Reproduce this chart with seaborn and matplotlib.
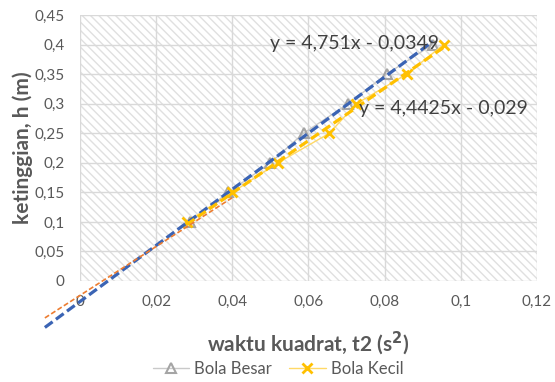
import numpy as np
import pandas as pd
import matplotlib
matplotlib.use("Agg")
import matplotlib.pyplot as plt
import seaborn as sns
from matplotlib.ticker import FuncFormatter, MultipleLocator
from matplotlib.lines import Line2D
from matplotlib.patches import Rectangle

# data
h = [0.10, 0.15, 0.20, 0.25, 0.30, 0.35, 0.40]
t2_besar = [0.0290, 0.0390, 0.0500, 0.0587, 0.0705, 0.0805, 0.0926]
t2_kecil = [0.0280, 0.0400, 0.0520, 0.0655, 0.0726, 0.0858, 0.0955]

# trendline coefficients shown on the chart
besar_slope, besar_icpt = 4.751, -0.0349
kecil_slope, kecil_icpt = 4.4425, -0.029
besar_trend_x = [-0.0092, 0.0926]
kecil_trend_x = [0.0280, 0.0955]
# thin orange dashed line (extra trendline in the original)
orange_x = [-0.0092, 0.0400]
orange_y = [-0.0625, 0.1410]

sns.set_style("white")
plt.rcParams["font.family"] = ["Lato", "DejaVu Sans"]

fig = plt.figure(figsize=(5.55, 3.82), dpi=100)
ax = fig.add_axes([0.144, 0.2644, 0.8236, 0.6963])

# hatched plot area background
bg = Rectangle((0, 0), 1, 1, transform=ax.transAxes, facecolor="white",
               edgecolor="#e0e0e0", hatch="\\\\\\\\", linewidth=0, zorder=0)
ax.add_patch(bg)
ax.patch.set_visible(False)

ax.set_xlim(0, 0.12)
ax.set_ylim(0, 0.45)
ax.xaxis.set_major_locator(MultipleLocator(0.02))
ax.yaxis.set_major_locator(MultipleLocator(0.05))
ax.grid(True, color="#d9d9d9", linewidth=1, zorder=1)
ax.set_axisbelow(True)
for s in ax.spines.values():
    s.set_visible(False)


def fmt(v, pos):
    s = f"{v:.2f}".rstrip("0").rstrip(".")
    return s.replace(".", ",")


ax.xaxis.set_major_formatter(FuncFormatter(fmt))
ax.yaxis.set_major_formatter(FuncFormatter(fmt))
ax.tick_params(axis="both", length=0, labelsize=11, colors="#595959")
ax.tick_params(axis="x", pad=10)
ax.tick_params(axis="y", pad=11)

df = pd.DataFrame({"t2": t2_besar + t2_kecil, "h": h + h,
                   "seri": ["Bola Besar"] * len(h) + ["Bola Kecil"] * len(h)})

sns.lineplot(data=df[df.seri == "Bola Besar"], x="t2", y="h", ax=ax, color="#c9c9c9",
             linewidth=1, marker="^", markersize=7, markerfacecolor="none",
             markeredgecolor="#a5a5a5", markeredgewidth=1.5, sort=False, zorder=3)
sns.lineplot(data=df[df.seri == "Bola Kecil"], x="t2", y="h", ax=ax, color="#ffd966",
             linewidth=1, marker="x", markersize=7, markeredgecolor="#ffc000",
             markeredgewidth=2, sort=False, zorder=3)

# trendlines
bx = np.array(besar_trend_x)
kx = np.array(kecil_trend_x)
ax.plot(bx, besar_slope * bx + besar_icpt, color="#3b64b4", linewidth=2.3,
        linestyle=(0, (3, 1.3)), clip_on=False, zorder=4)
ax.plot(kx, kecil_slope * kx + kecil_icpt, color="#ffc000", linewidth=2.3,
        linestyle=(0, (3, 1.3)), clip_on=False, zorder=4)
ax.plot(orange_x, orange_y, color="#ed7d31", linewidth=1.2,
        linestyle=(0, (3, 1.5)), clip_on=False, zorder=4)

ax.text(0.0500, 0.402, "y = 4,751x - 0,0349", fontsize=14, color="#404040",
        va="center", ha="left", zorder=5)
ax.text(0.0732, 0.292, "y = 4,4425x - 0,029", fontsize=14, color="#404040",
        va="center", ha="left", zorder=5)

ax.set_xlabel("waktu kuadrat, t2 (s$^\\mathbf{2}$)", fontsize=15, fontweight="bold",
              color="#595959", va="center")
ax.set_ylabel("ketinggian, h (m)", fontsize=15, fontweight="bold", color="#595959",
              va="center")
ax.xaxis.set_label_coords(0.5, -0.233)
ax.yaxis.set_label_coords(-0.125, 0.5)

handles = [
    Line2D([], [], color="#c9c9c9", linewidth=1, marker="^", markersize=7,
           markerfacecolor="none", markeredgecolor="#a5a5a5", markeredgewidth=1.5),
    Line2D([], [], color="#ffd966", linewidth=1, marker="x", markersize=7,
           markeredgecolor="#ffc000", markeredgewidth=2),
]
fig.legend(handles, ["Bola Besar", "Bola Kecil"], loc="center",
           bbox_to_anchor=(278 / 555, 1 - 369 / 382), ncol=2, frameon=False,
           fontsize=12, labelcolor="#595959", handlelength=2.2, handletextpad=0.3,
           columnspacing=1.0)

fig.savefig("out.png", dpi=100)
